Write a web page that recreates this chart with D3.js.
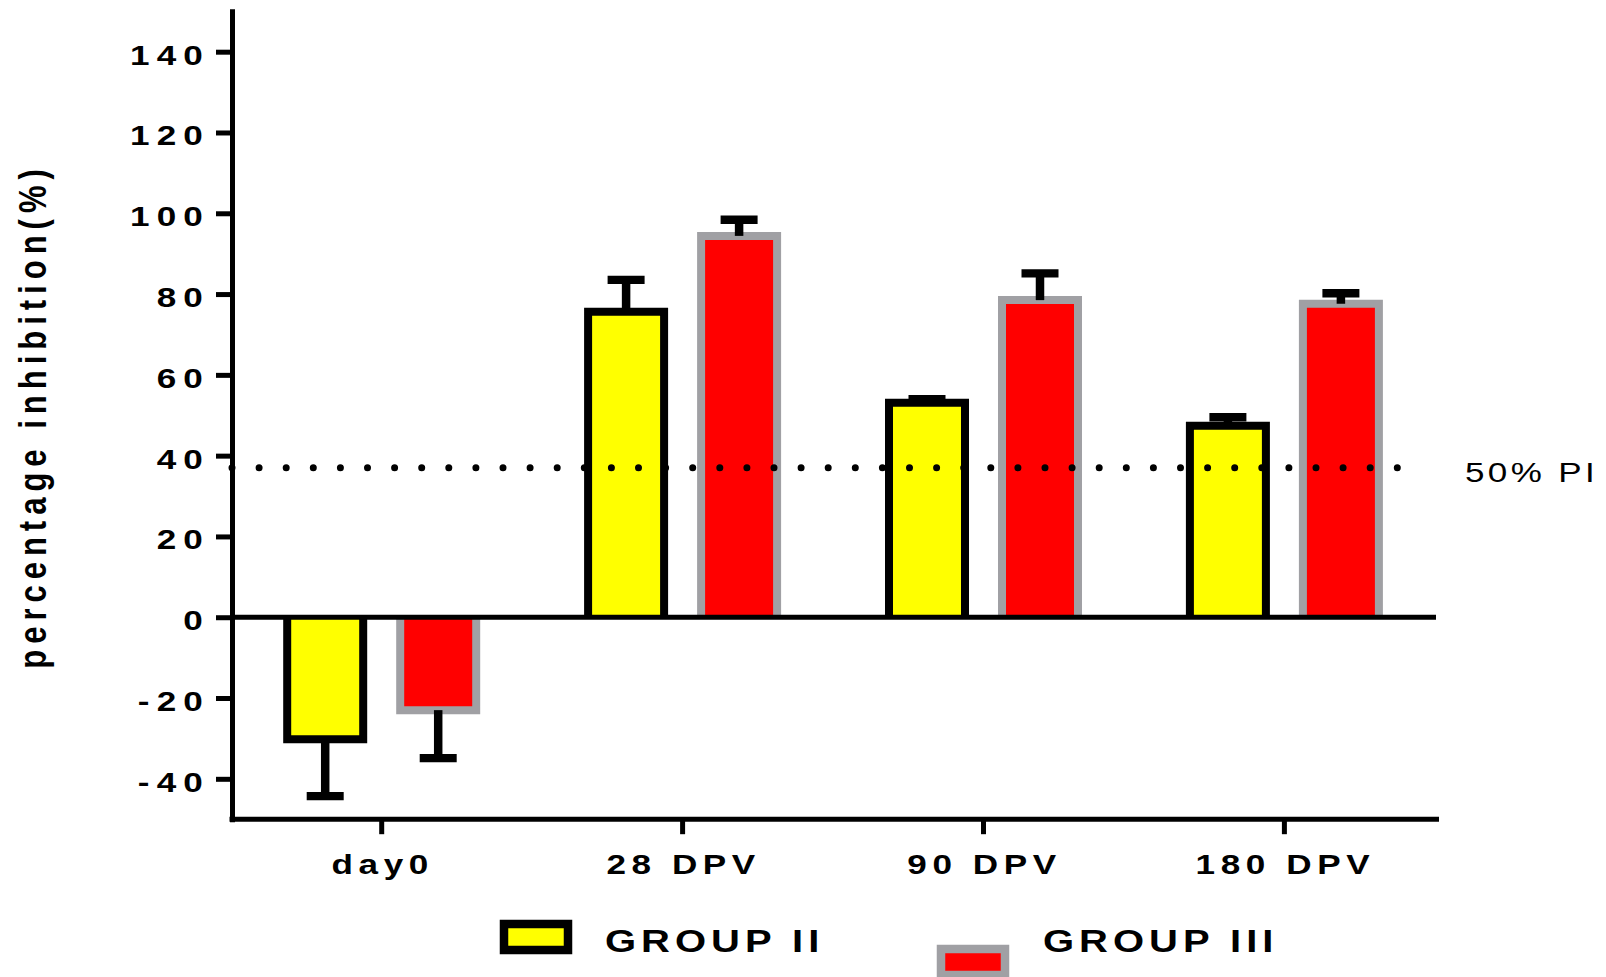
<!DOCTYPE html>
<html>
<head>
<meta charset="utf-8">
<script src="https://cdn.jsdelivr.net/npm/d3@7"></script>
<style>
  html, body { margin: 0; padding: 0; background: #fff; }
  svg { display: block; font-family: "Liberation Sans", Arial, Helvetica, sans-serif; }
</style>
</head>
<body>
<svg id="chart" width="1606" height="977"></svg>
<script>
// ---- data ----
const categories = ["day0", "28 DPV", "90 DPV", "180 DPV"];
const groups = ["GROUP II", "GROUP III"];
const groupIIMean = [-30.2, 75.6, 53.1, 47.4];
const groupIISD   = [14.1, 7.9, 0.9, 2.1];
const groupIIIMean = [-23.0, 94.4, 78.5, 77.6];
const groupIIISD   = [11.9, 4.0, 6.6, 2.6];
const yTicks = [-40, -20, 0, 20, 40, 60, 80, 100, 120, 140];
const yDomain = [-50, 150];
const thresholdValue = 37;
const thresholdLabel = "50% PI";
const yTitle = "percentage inhibition(%)";

// ---- styles ----
const fills   = { "GROUP II": "#FFFF00", "GROUP III": "#FF0000" };
const borders = { "GROUP II": "#000000", "GROUP III": "#A0A0A4" };
const barW = 76, borderW = 8;
const axisW = 5;

const svg = d3.select("#chart");

const y = d3.scaleLinear().domain(yDomain).range([819.2, 11.3]);
const x = d3.scaleBand().domain(categories).range([231.25, 1434.85]);
const xs = d3.scalePoint().domain(groups).range([-56.5, 56.5]);

const rows = [];
categories.forEach((c, i) => {
  rows.push({ cat: c, group: "GROUP II", mean: groupIIMean[i], sd: groupIISD[i] });
  rows.push({ cat: c, group: "GROUP III", mean: groupIIIMean[i], sd: groupIIISD[i] });
});
rows.forEach(d => {
  d.cx = x(d.cat) + x.bandwidth() / 2 + xs(d.group);
  d.end = d.mean + Math.sign(d.mean) * d.sd;
});

const axisX = 232;
const y0 = y(0);

// ---- bars ----
const bars = svg.append("g");
bars.selectAll("rect").data(rows).join("rect")
  .attr("x", d => d.cx - barW / 2)
  .attr("y", d => Math.min(y(d.mean), y0))
  .attr("width", barW)
  .attr("height", d => Math.abs(y(d.mean) - y0))
  .attr("fill", d => fills[d.group]);

bars.selectAll("path").data(rows).join("path")
  .attr("d", d => {
    const x0 = d.cx - barW / 2, x1 = d.cx + barW / 2, yv = y(d.mean);
    return `M${x0},${y0}L${x0},${yv}L${x1},${yv}L${x1},${y0}`;
  })
  .attr("fill", "none")
  .attr("stroke", d => borders[d.group])
  .attr("stroke-width", borderW)
  .attr("stroke-linejoin", "miter");

// ---- error bars ----
const err = svg.append("g").attr("stroke", "#000");
err.selectAll("line.stem").data(rows).join("line").attr("class", "stem")
  .attr("x1", d => d.cx).attr("x2", d => d.cx)
  .attr("y1", d => y(d.mean)).attr("y2", d => y(d.end))
  .attr("stroke-width", 8.5);
err.selectAll("line.cap").data(rows).join("line").attr("class", "cap")
  .attr("x1", d => d.cx - 18.5).attr("x2", d => d.cx + 18.5)
  .attr("y1", d => y(d.end)).attr("y2", d => y(d.end))
  .attr("stroke-width", 8.3);

// ---- threshold dotted line ----
svg.append("line")
  .attr("x1", axisX).attr("x2", 1424)
  .attr("y1", y(thresholdValue)).attr("y2", y(thresholdValue))
  .attr("stroke", "#000").attr("stroke-width", 7)
  .attr("stroke-linecap", "round")
  .attr("stroke-dasharray", "0 27.1");

svg.append("text")
  .attr("transform", `translate(1465, ${y(thresholdValue) + 14.5}) scale(1.25,1)`)
  .attr("font-size", 28)
  .attr("letter-spacing", 2.7)
  .attr("fill", "#000")
  .text(thresholdLabel);

// ---- zero line ----
svg.append("line")
  .attr("x1", axisX).attr("x2", 1436)
  .attr("y1", y0).attr("y2", y0)
  .attr("stroke", "#000").attr("stroke-width", axisW);

// ---- y axis ----
const gY = svg.append("g").attr("transform", `translate(${axisX},0)`)
  .call(d3.axisLeft(y).tickValues(yTicks).tickSize(16).tickSizeOuter(0)
        .tickFormat(d => String(d)));
gY.select(".domain").attr("stroke-width", axisW).attr("stroke-linecap", "square");
gY.selectAll(".tick line").attr("stroke-width", axisW);
gY.selectAll(".tick text")
  .attr("x", null).attr("dy", "0.46em")
  .attr("transform", "translate(-22,0) scale(1.3,1)")
  .attr("font-size", 27).attr("font-weight", "bold")
  .attr("letter-spacing", 5.5)
  .attr("font-family", null)
  .attr("fill", "#000");

// ---- x axis ----
const xAxisY = y(yDomain[0]);
const gX = svg.append("g").attr("transform", `translate(0,${xAxisY})`)
  .call(d3.axisBottom(x).tickSize(15).tickSizeOuter(0));
gX.select(".domain").remove();
gX.append("line")
  .attr("x1", axisX - 2.5).attr("x2", 1439)
  .attr("stroke", "#000").attr("stroke-width", axisW);
gX.selectAll(".tick line").attr("stroke-width", axisW);
gX.selectAll(".tick text")
  .attr("y", null).attr("dy", null)
  .attr("transform", "translate(1,55) scale(1.3,1)")
  .attr("font-size", 27).attr("font-weight", "bold")
  .attr("letter-spacing", 4.3)
  .attr("font-family", null)
  .attr("fill", "#000");

// ---- y title ----
svg.append("text")
  .attr("transform", "translate(46,416) scale(1.25,1) rotate(-90)")
  .attr("text-anchor", "middle")
  .attr("font-size", 31).attr("font-weight", "bold")
  .attr("letter-spacing", 6)
  .attr("fill", "#000")
  .text(yTitle);

// ---- legend ----
const legendItems = [
  { group: groups[0], sx: 504, sy: 924, tx: 605, ty: 952 },
  { group: groups[1], sx: 941, sy: 949, tx: 1043, ty: 952 }
];
const lg = svg.append("g");
lg.selectAll("rect").data(legendItems).join("rect")
  .attr("x", d => d.sx).attr("y", d => d.sy)
  .attr("width", 64).attr("height", 26)
  .attr("fill", d => fills[d.group])
  .attr("stroke", d => borders[d.group])
  .attr("stroke-width", 8.5);
lg.selectAll("text").data(legendItems).join("text")
  .attr("transform", d => `translate(${d.tx},${d.ty}) scale(1.25,1)`)
  .attr("font-size", 32).attr("font-weight", "bold")
  .attr("letter-spacing", 4)
  .attr("fill", "#000")
  .text(d => d.group);
</script>
</body>
</html>
